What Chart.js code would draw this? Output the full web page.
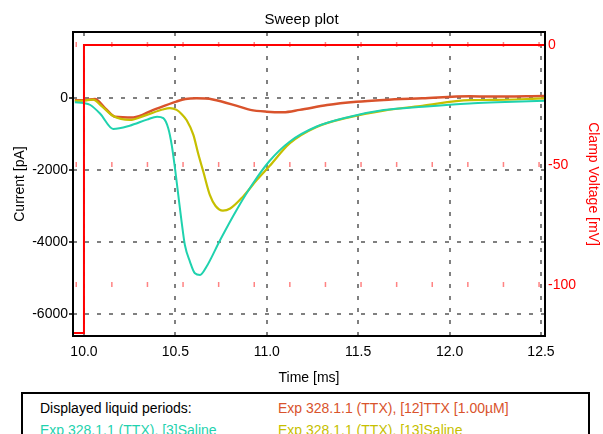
<!DOCTYPE html>
<html>
<head>
<meta charset="utf-8">
<title>Sweep plot</title>
<script src="https://cdn.jsdelivr.net/npm/chart.js@4.4.1/dist/chart.umd.min.js"></script>
<style>
  body { margin: 0; background: #fff; font-family: "Liberation Sans", Arial, sans-serif; }
  #wrap { position: relative; width: 603px; height: 434px; overflow: hidden; }
  #plot { position: absolute; left: 0; top: 0; width: 603px; height: 392px; }
  #legendBox { position: absolute; left: 21px; top: 392px; width: 569px; height: 60px; border: 2px solid #000; box-sizing: border-box; }
  .lg { position: absolute; font-size: 14px; line-height: 16px; white-space: nowrap; }
</style>
</head>
<body>
<div id="wrap">
  <div id="plot"><canvas id="sweepChart"></canvas></div>
  <div id="legendBox">
    <span class="lg" style="left:17px; top:6px; color:#000;">Displayed liquid periods:</span>
    <span class="lg" style="left:255px; top:6px; color:#d9532c;">Exp 328.1.1 (TTX), [12]TTX [1.00µM]</span>
    <span class="lg" style="left:17px; top:28px; color:#1fd2ae;">Exp 328.1.1 (TTX), [3]Saline</span>
    <span class="lg" style="left:255px; top:28px; color:#c6bf00;">Exp 328.1.1 (TTX), [13]Saline</span>
  </div>
</div>
<script>
// tick labels
const timeTicks = [10.0, 10.5, 11.0, 11.5, 12.0, 12.5];
const currentTicks = [-6000, -4000, -2000, 0];
const voltageTicks = [-100, -50, 0];

// [12]TTX 1.00uM (orange)
const ttxTime = [9.95, 10.0, 10.06, 10.115, 10.17, 10.27, 10.38, 10.505, 10.555, 10.615, 10.705, 10.85, 10.91, 11.0, 11.09, 11.18, 11.33, 11.49, 11.64, 11.85, 12.11, 12.22, 12.52];
const ttxCurrent = [-60, -60, -30, -280, -520, -540, -330, -100, -30, -10, -40, -240, -330, -380, -395, -330, -195, -105, -55, -10, 45, 40, 55];

// [3]Saline (turquoise)
const saline3Time = [9.95, 10.0, 10.035, 10.09, 10.16, 10.25, 10.345, 10.40, 10.434, 10.461, 10.48, 10.498, 10.516, 10.534, 10.552, 10.58, 10.607, 10.635, 10.67, 10.745, 10.835, 10.925, 11.015, 11.125, 11.27, 11.455, 11.64, 11.855, 12.11, 12.26, 12.52];
const saline3Current = [-120, -140, -195, -445, -860, -770, -600, -520, -560, -840, -1305, -1955, -2695, -3435, -4085, -4550, -4870, -4915, -4690, -3945, -3110, -2370, -1750, -1215, -800, -520, -335, -240, -150, -120, -75];

// [13]Saline (yellow)
const saline13Time = [9.95, 10.0, 10.05, 10.10, 10.16, 10.25, 10.34, 10.43, 10.47, 10.507, 10.535, 10.562, 10.598, 10.625, 10.653, 10.689, 10.72, 10.76, 10.80, 10.87, 10.945, 11.015, 11.125, 11.27, 11.455, 11.64, 11.85, 12.11, 12.22, 12.52];
const saline13Current = [-80, -70, -45, -240, -500, -610, -475, -320, -280, -330, -450, -620, -1020, -1550, -2050, -2700, -3000, -3130, -3070, -2740, -2280, -1890, -1260, -810, -530, -350, -215, -60, -55, -10];

// clamp voltage (red, right axis)
const clampTime = [9.94, 10.0, 10.0, 12.522];
const clampVoltage = [-120, -120, 0, 0];

function pts(xs, ys) {
  return xs.map((x, i) => ({ x: x, y: ys[i] }));
}

const frame = {
  id: 'frame',
  afterDraw(chart) {
    const { ctx, chartArea: a } = chart;
    ctx.save();
    ctx.strokeStyle = '#000';
    ctx.lineWidth = 2;
    ctx.strokeRect(a.left, a.top, a.right - a.left, a.bottom - a.top);
    ctx.restore();
  }
};

const font14 = { family: '"Liberation Sans", Arial, sans-serif', size: 14 };

const data = {
  datasets: [
    { label: 'Clamp', data: pts(clampTime, clampVoltage), yAxisID: 'y2', borderColor: '#ff0000', borderWidth: 2, tension: 0, order: 0 },
    { label: '[3]Saline', data: pts(saline3Time, saline3Current), yAxisID: 'y', borderColor: '#1fd2ae', borderWidth: 2, cubicInterpolationMode: 'monotone', order: 1 },
    { label: '[13]Saline', data: pts(saline13Time, saline13Current), yAxisID: 'y', borderColor: '#c6bf00', borderWidth: 2.2, cubicInterpolationMode: 'monotone', order: 2 },
    { label: '[12]TTX', data: pts(ttxTime, ttxCurrent), yAxisID: 'y', borderColor: '#d9532c', borderWidth: 2.5, cubicInterpolationMode: 'monotone', order: 3 }
  ]
};

const config = {
  type: 'line',
  data,
  options: {
    responsive: true,
    maintainAspectRatio: false,
    animation: false,
    elements: { point: { radius: 0 } },
    plugins: {
      legend: { display: false },
      tooltip: { enabled: false },
      title: {
        display: true,
        text: 'Sweep plot',
        color: '#000',
        font: { family: font14.family, size: 15, weight: 'normal' },
        padding: { top: 11, bottom: 3 }
      }
    },
    scales: {
      x: {
        type: 'linear',
        min: 9.94,
        max: 12.522,
        afterBuildTicks: (s) => { s.ticks = timeTicks.map(v => ({ value: v })); },
        afterFit: (s) => { s.height = 56; },
        ticks: { color: '#000', font: font14, padding: 8, maxRotation: 0, autoSkip: false, callback: (v) => Number(v).toFixed(1) },
        grid: { color: '#808080', lineWidth: 2, drawTicks: false },
        border: { display: false, dash: [4, 8] },
        title: { display: true, text: 'Time [ms]', color: '#000', font: font14, padding: { top: 4, bottom: 5 } }
      },
      y: {
        position: 'left',
        min: -6611,
        max: 1833,
        afterBuildTicks: (s) => { s.ticks = currentTicks.map(v => ({ value: v })); },
        afterFit: (s) => { s.width = 73; },
        ticks: { color: '#000', font: font14, padding: 1, callback: (v) => String(v) },
        grid: { color: '#808080', lineWidth: 2, tickColor: '#000', tickLength: 4, tickWidth: 1.5, tickBorderDash: [] },
        border: { display: false, dash: [4, 8] },
        title: { display: true, text: 'Current [pA]', color: '#000', font: font14, padding: { top: 12, bottom: 0 } }
      },
      y2: {
        position: 'right',
        min: -121.25,
        max: 5.4,
        afterBuildTicks: (s) => { s.ticks = voltageTicks.map(v => ({ value: v })); },
        afterFit: (s) => { s.width = 58; },
        ticks: { color: '#ff0000', font: font14, padding: 3, callback: (v) => String(v) },
        grid: { color: 'rgba(255,90,90,0.75)', lineWidth: 5, drawTicks: false },
        border: { display: false, dash: [1.5, 34.1], dashOffset: 33.1 },
        title: { display: true, text: 'Clamp Voltage [mV]', color: '#ff0000', font: font14, padding: { top: 2, bottom: 0 } }
      }
    }
  },
  plugins: [frame]
};

const sweepChart = new Chart(document.getElementById('sweepChart'), config);
</script>
</body>
</html>
